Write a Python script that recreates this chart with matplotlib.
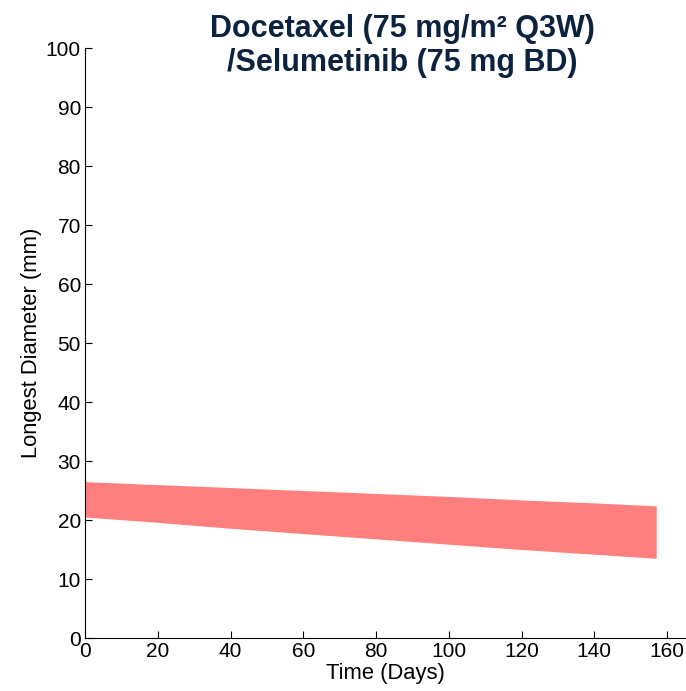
import numpy as np
import matplotlib.pyplot as plt

plt.rcParams['font.family'] = ['Liberation Sans', 'DejaVu Sans']

# predicted longest diameter band (mm) over treatment time (days)
days = [0, 20, 40, 60, 80, 100, 120, 140, 157]
upper = [26.5, 26.0, 25.5, 25.0, 24.5, 24.0, 23.4, 22.9, 22.4]
lower = [20.5, 19.6, 18.6, 17.7, 16.8, 15.9, 15.0, 14.2, 13.5]

xticks = [0, 20, 40, 60, 80, 100, 120, 140, 160]
yticks = [0, 10, 20, 30, 40, 50, 60, 70, 80, 90, 100]

fig = plt.figure(figsize=(6.86, 6.91), dpi=100)
ax = fig.add_axes([0.124, 0.0767, 0.875, 0.8538])

ax.fill_between(days, lower, upper, color='#ff7f7f', linewidth=0)

ax.set_xlim(0, 165)
ax.set_ylim(0, 100)
ax.set_xticks(xticks)
ax.set_yticks(yticks)
ax.tick_params(direction='in', length=5, labelsize=15, colors='black', pad=3)
ax.spines['top'].set_visible(False)
ax.spines['right'].set_visible(False)
ax.set_xlabel('Time (Days)', fontsize=15.8, labelpad=1.5)
ax.set_ylabel('Longest Diameter (mm)', fontsize=15.8, labelpad=3)

fig.text(0.586, 0.98, 'Docetaxel (75 mg/m² Q3W)\n/Selumetinib (75 mg BD)',
         ha='center', va='top', fontsize=22, fontweight='bold',
         color='#0c2340', linespacing=1.2)

fig.savefig('out.png', dpi=100)
